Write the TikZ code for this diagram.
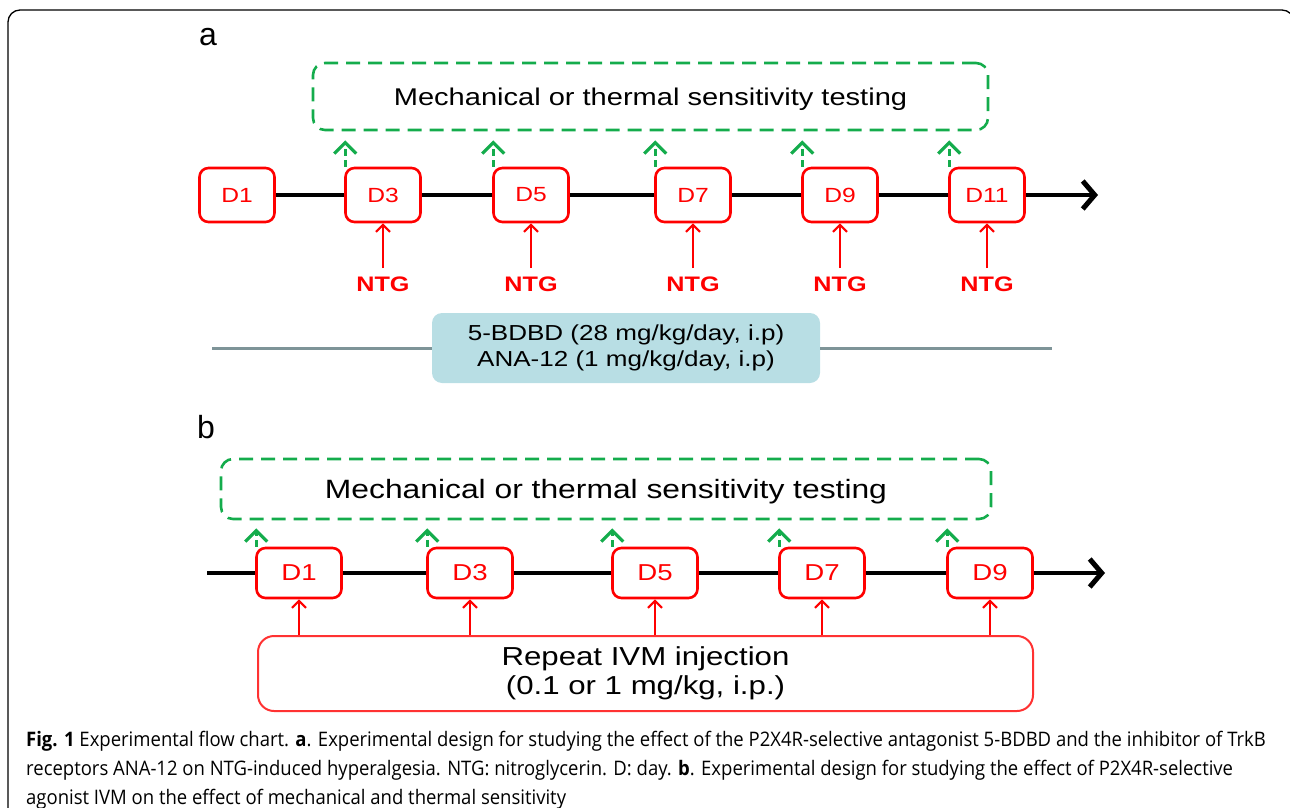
\documentclass[tikz,border=0pt]{standalone}
\usepackage{fontspec}
\setmainfont{Liberation Sans}
\newfontfamily\diagfont[FakeStretch=1.2]{Liberation Sans}
\newfontfamily\capfont[FakeStretch=0.925]{Open Sans}
\usetikzlibrary{arrows.meta}
\definecolor{testgreen}{RGB}{20,172,76}
\definecolor{dayred}{RGB}{255,0,0}
\definecolor{ivmred}{RGB}{255,50,50}
\definecolor{drugblue}{RGB}{184,222,228}
\definecolor{bargray}{RGB}{126,148,152}

\begin{document}
\begin{tikzpicture}[x=1pt,y=-1pt,line join=round,
    daybox/.style={draw=dayred,fill=white,line width=2.6pt,rounded corners=9pt,
      inner sep=0pt,text=dayred},
    testbox/.style={draw=testgreen,line width=2.6pt,dash pattern=on 14pt off 8pt,
      rounded corners=12pt,inner sep=0pt,text depth=0pt},
    axis/.style={line width=4.5pt},
    probe/.style={testgreen,line width=3pt,dash pattern=on 7pt off 4pt,
      -{Straight Barb[length=11pt,width=22pt,line width=3.2pt]}},
    inject/.style={dayred,line width=2pt,
      -{Straight Barb[length=7pt,width=14pt,line width=2.2pt]}},
    bar/.style={bargray,line width=3pt},
    panel/.style={font=\fontsize{32}{36}\selectfont}]
    \useasboundingbox (0,0) rectangle (1290,808);

    % The frame round the whole figure.
    \draw[line width=1.3pt,rounded corners=12pt] (8,10) rectangle (1294,830);

    % Panel a: the testing box and the days.
    \node[panel] (labA) at (208,37) {a};
    \node[testbox,minimum width=675pt,minimum height=67pt,
      font=\diagfont\fontsize{24.2}{28}\selectfont] (testA) at (650.5,96.5)
      {Mechanical or thermal sensitivity testing};
    \foreach \d/\x in {1/237,3/383,5/531,7/693,9/840,11/987}
      \node[daybox,minimum width=75pt,minimum height=54pt,
        font=\diagfont\fontsize{20.5}{24}\selectfont] (a\d) at (\x,195) {D\d};
    \coordinate (tipA) at (1098,195);
    \foreach \p/\q in {1/3,3/5,5/7,7/9,9/11}
      \draw[axis] (a\p.east) -- (a\q.west);
    \draw[axis,-{Straight Barb[length=12pt,width=28pt,line width=5pt]}]
      (a11.east) -- (tipA);

    % Testing on the injection days, NTG given from below.
    \foreach \d/\x in {3/383,5/531,7/693,9/840,11/987}{
      \draw[probe,shorten >=9pt] ([xshift=1pt]a\d.north west)
        -- ([xshift=1pt]a\d.north west |- testA.south);
      \node[font=\diagfont\bfseries\fontsize{21}{24}\selectfont,text=dayred]
        (ntg\d) at (\x,284) {NTG};
      \draw[inject,shorten <=5pt] (ntg\d.north) -- (a\d.south);
    }

    % The drug given over the whole period.
    \coordinate (barL) at (212,348);
    \coordinate (barR) at (1052,348);
    \node[fill=drugblue,rounded corners=10pt,minimum width=388pt,minimum height=70pt,
      align=center,font=\diagfont\fontsize{21.7}{26}\selectfont] (drug) at (626,348)
      {5-BDBD (28 mg/kg/day, i.p)\\ANA-12 (1 mg/kg/day, i.p)};
    \draw[bar] (barL) -- (drug.west);
    \draw[bar] (drug.east) -- (barR);

    % Panel b: the testing box and the days.
    \node[panel] (labB) at (206,427) {b};
    \node[testbox,minimum width=770pt,minimum height=60pt,
      font=\diagfont\fontsize{26.5}{30}\selectfont] (testB) at (606,489)
      {Mechanical or thermal sensitivity testing};
    \foreach \d/\x in {1/299,3/470,5/655,7/822,9/990}
      \node[daybox,minimum width=85pt,minimum height=50pt,
        font=\diagfont\fontsize{23}{26}\selectfont] (b\d) at (\x,573) {D\d};
    \coordinate (startB) at (207,573);
    \coordinate (tipB) at (1105,573);
    \draw[axis] (startB) -- (b1.west);
    \foreach \p/\q in {1/3,3/5,5/7,7/9}
      \draw[axis] (b\p.east) -- (b\q.west);
    \draw[axis,-{Straight Barb[length=12pt,width=28pt,line width=5pt]}]
      (b9.east) -- (tipB);

    % The IVM injection box feeding every day.
    \node[draw=ivmred,line width=2pt,rounded corners=16pt,minimum width=775pt,
      minimum height=75pt,align=center,font=\diagfont\fontsize{26}{29}\selectfont]
      (ivm) at (645.5,673.5) {Repeat IVM injection\\(0.1 or 1 mg/kg, i.p.)};
    \foreach \d in {1,3,5,7,9}{
      \draw[probe,shorten >=8pt] ([xshift=1pt]b\d.north west)
        -- ([xshift=1pt]b\d.north west |- testB.south);
      \draw[inject] (b\d.south |- ivm.north) -- (b\d.south);
    }

    % The caption.
    \begin{scope}[every node/.style={anchor=base west,inner sep=0pt,
        font=\capfont\fontsize{20}{22}\selectfont}]
      \node (cap1) at (26,746) {\textbf{Fig. 1} Experimental flow chart. \textbf{a}. Experimental design for studying the effect of the P2X4R-selective antagonist 5-BDBD and the inhibitor of TrkB};
      \node (cap2) at (26,775) {receptors ANA-12 on NTG-induced hyperalgesia. NTG: nitroglycerin. D: day. \textbf{b}. Experimental design for studying the effect of P2X4R-selective};
      \node (cap3) at (26,804) {agonist IVM on the effect of mechanical and thermal sensitivity};
    \end{scope}
\end{tikzpicture}
\end{document}
